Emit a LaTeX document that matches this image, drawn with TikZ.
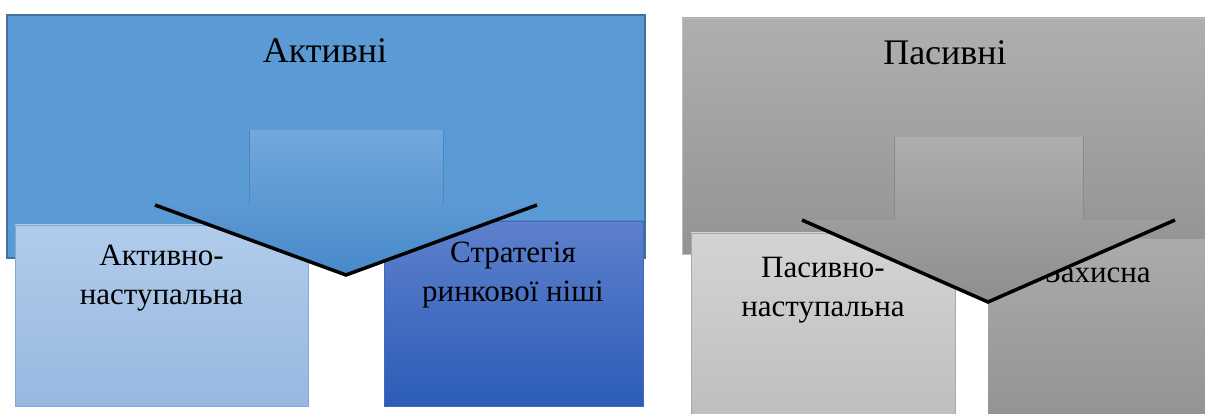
\documentclass[tikz,border=0pt]{standalone}
\usepackage{fontspec}
\setmainfont{Liberation Serif}

% palette
\definecolor{actfill}{HTML}{5B9BD5}
\definecolor{actline}{HTML}{41719C}
\definecolor{arrAtop}{HTML}{72A8DD}
\definecolor{arrAbot}{HTML}{4789C9}
\definecolor{arrAside}{HTML}{4F86BF}
\definecolor{ltbluetop}{HTML}{B1CCEB}
\definecolor{ltbluebot}{HTML}{98B8E0}
\definecolor{ltblueline}{HTML}{7FA8DC}
\definecolor{dkbluetop}{HTML}{5D80CC}
\definecolor{dkbluebot}{HTML}{2C5CB7}
\definecolor{dkblueline}{HTML}{4169BD}
\definecolor{pasTop}{HTML}{AFAFAF}
\definecolor{pasBot}{HTML}{939393}
\definecolor{pasLine}{HTML}{BDBDBD}
\definecolor{arrPtop}{HTML}{ADADAD}
\definecolor{arrPbot}{HTML}{8E8E8E}
\definecolor{arrPside}{HTML}{8A8A8A}
\definecolor{ltgreytop}{HTML}{D4D4D4}
\definecolor{ltgreybot}{HTML}{BEBEBE}
\definecolor{ltgreyline}{HTML}{A8A8A8}
\definecolor{dkgreytop}{HTML}{ABABAB}
\definecolor{dkgreybot}{HTML}{939393}

\begin{document}
\begin{tikzpicture}[x=1pt,y=-1pt,
  titletext/.style={font=\fontsize{36}{40}\selectfont, anchor=base, inner sep=0pt},
  boxtext/.style={font=\fontsize{31}{39}\selectfont, align=center, anchor=north, inner sep=0pt},
  headedge/.style={draw=black, line width=3.5pt, line join=miter},
  shaftedge/.style={line width=0.7pt}]

\useasboundingbox (0,0) rectangle (1205,414);

% ---------- active strategies ----------
\filldraw[fill=actfill, draw=actline, line width=1.5pt] (7,15) rectangle (645,258);
\node[titletext] (act) at (325,63) {Активні};

\shade[top color=ltbluetop, bottom color=ltbluebot, draw=ltblueline, line width=0.8pt]
  (15,225) rectangle (308,406);
\shade[top color=dkbluetop, bottom color=dkbluebot, draw=dkblueline, line width=0.8pt]
  (384,221) rectangle (643,406);
\node[boxtext] (actoff) at (161.5,244.5) {Активно-\\наступальна};
\node[boxtext] (niche) at (513,242) {Стратегія\\ринкової ніші};

% block arrow
\coordinate (aL) at (155,205);
\coordinate (aT) at (346,275);
\coordinate (aR) at (537,205);
\shade[top color=arrAtop, bottom color=arrAbot]
  (249,130) -- (443,130) -- (443,205) -- (aR) -- (aT) -- (aL) -- (249,205) -- cycle;
\draw[shaftedge, draw=arrAside] (249,130) -- (249,205) (443,130) -- (443,205);
\draw[headedge] (aL) -- (aT) -- (aR);

% ---------- passive strategies ----------
\shade[top color=pasTop, bottom color=pasBot, draw=pasLine, line width=0.8pt]
  (682,18) rectangle (1212,254);
\node[titletext] (pas) at (945,65) {Пасивні};

\shade[top color=ltgreytop, bottom color=ltgreybot, draw=ltgreyline, line width=0.8pt]
  (691,233) rectangle (955,420);
\shade[top color=dkgreytop, bottom color=dkgreybot]
  (988,240) rectangle (1212,420);
\node[boxtext] (pasoff) at (823,257) {Пасивно-\\наступальна};
\node[boxtext] (defend) at (1098,261.5) {Захисна};

% block arrow
\coordinate (pL) at (802,220);
\coordinate (pT) at (988,302);
\coordinate (pR) at (1175,220);
\shade[top color=arrPtop, bottom color=arrPbot]
  (894,137) -- (1083,137) -- (1083,220) -- (pR) -- (pT) -- (pL) -- (894,220) -- cycle;
\draw[shaftedge, draw=arrPside] (894,137) -- (894,220) (1083,137) -- (1083,220);
\draw[headedge] (pL) -- (pT) -- (pR);

\end{tikzpicture}
\end{document}
